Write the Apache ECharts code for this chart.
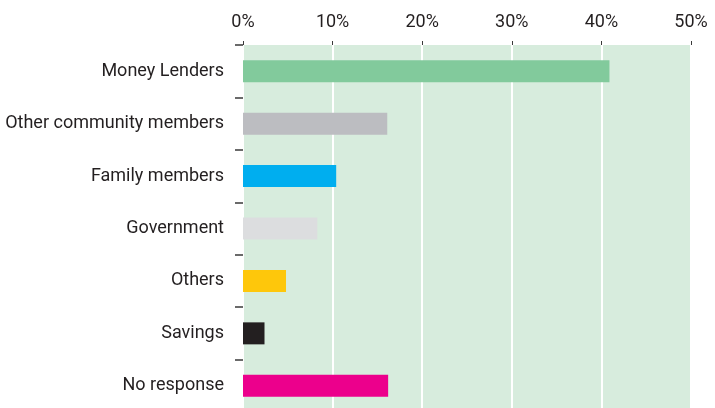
<!DOCTYPE html>
<html>
<head>
<meta charset="utf-8">
<script src="https://cdn.jsdelivr.net/npm/echarts@6/dist/echarts.min.js"></script>
<style>
  html, body { margin: 0; padding: 0; background: #ffffff; }
  #chart { width: 715px; height: 408px; }
</style>
</head>
<body>
<div id="chart"></div>
<script>
// Sources of borrowed money, share of respondents (%)
const categories = [
  'Money Lenders',
  'Other community members',
  'Family members',
  'Government',
  'Others',
  'Savings',
  'No response'
];
const shares = [40.9, 16.1, 10.4, 8.3, 4.8, 2.4, 16.2];
const barColors = ['#82ca9c', '#bcbdc1', '#00aeef', '#dcdddf', '#fec70b', '#231f20', '#ec008c'];
const axisTicks = [0, 10, 20, 30, 40, 50];

const FONT = 'Roboto, "Open Sans", sans-serif';
const TEXT = '#231f20';

const chart = echarts.init(document.getElementById('chart'), null, { renderer: 'canvas' });

chart.setOption({
  animation: false,
  grid: {
    left: 243,
    right: 24,
    top: 45,
    bottom: -4,
    containLabel: false,
    outerBoundsMode: 'none',
    show: true,
    backgroundColor: '#d7ecdd',
    borderWidth: 0
  },
  xAxis: {
    type: 'value',
    position: 'top',
    min: axisTicks[0],
    max: axisTicks[axisTicks.length - 1],
    interval: 10,
    axisLine: { show: false },
    axisTick: { show: true, length: 4, lineStyle: { color: '#3a3a3a', width: 1 } },
    axisLabel: {
      formatter: '{value}%',
      margin: 14,
      color: TEXT,
      fontFamily: FONT,
      fontSize: 18
    },
    splitLine: { show: true, lineStyle: { color: '#ffffff', width: 2 } }
  },
  yAxis: {
    type: 'category',
    data: categories,
    inverse: true,
    axisLine: { show: false },
    axisTick: { show: true, length: 8, lineStyle: { color: '#3a3a3a', width: 1.5 } },
    axisLabel: {
      margin: 19,
      color: TEXT,
      fontFamily: FONT,
      fontSize: 18
    },
    splitLine: { show: false }
  },
  series: [{
    type: 'bar',
    data: shares.map((v, i) => ({ value: v, itemStyle: { color: barColors[i] } })),
    barWidth: 22
  }]
});
</script>
</body>
</html>
